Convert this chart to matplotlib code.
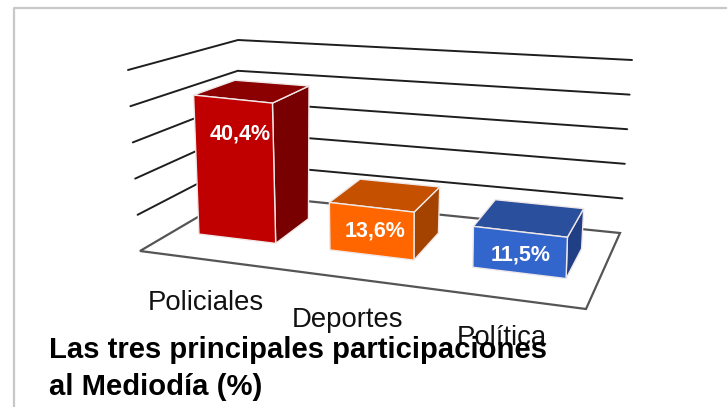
import matplotlib
matplotlib.use("Agg")
import matplotlib.pyplot as plt
from matplotlib.patches import Polygon
import numpy as np

categories = ["Policiales", "Deportes", "Política"]
values = [40.4, 13.6, 11.5]
value_labels = ["40,4%", "13,6%", "11,5%"]
grid_levels = [0, 10, 20, 30, 40, 50]

FRONT_COLORS = ["#C00000", "#FF6600", "#3366CC"]
TOP_COLORS = ["#8B0000", "#C45000", "#2A4F9C"]
SIDE_COLORS = ["#780000", "#A44200", "#203F85"]

# box corners in picture pixels: front-left, front-right, back-right, back-left
FLOOR = np.array([(140, 251), (586, 309), (620, 233), (237, 194)], dtype=float)
CEILING = np.array([(128, 70), (590, 125), (632, 60), (238, 40)], dtype=float)
Z_MAX = 50

# bar footprints as fractions of the floor
BAR_LEFT = [0.059, 0.368, 0.705]
BAR_RIGHT = [0.24, 0.566, 0.925]
BAR_FRONT = 0.35
BAR_BACK = 0.75

LABEL_OFFSET = [(7, 35), (3, 24), (0, 23)]
CAT_POS = [(206, 303), (347, 320), (502, 338)]


def project(u, v, z):
    w = np.array([(1 - u) * (1 - v), u * (1 - v), u * v, (1 - u) * v])
    t = z / Z_MAX
    return tuple((1 - t) * (w @ FLOOR) + t * (w @ CEILING))


plt.rcParams["font.family"] = ["Liberation Sans", "DejaVu Sans"]
fig = plt.figure(figsize=(7.27, 4.07), dpi=100)
ax = fig.add_axes([0, 0, 1, 1])
ax.set_xlim(0, 727)
ax.set_ylim(407, 0)
ax.axis("off")

# slide frame: only the top and left sides show
ax.plot([13.5, 13.5, 727], [407, 8, 8], color="#C8C8C8", linewidth=1.6, zorder=0)

# walls
for level in grid_levels[1:]:
    pts = [project(0, 0, level), project(0, 1, level), project(1, 1, level)]
    ax.plot(*zip(*pts), color="#1E1E1E", linewidth=1.4, solid_capstyle="round", zorder=1)

# floor
floor_pts = [project(0, 0, 0), project(1, 0, 0), project(1, 1, 0), project(0, 1, 0)]
ax.add_patch(Polygon(floor_pts, closed=True, facecolor="white", edgecolor="#555555", linewidth=1.6, zorder=1))

# bars
for i, val in enumerate(values):
    u0, u1 = BAR_LEFT[i], BAR_RIGHT[i]
    v0, v1 = BAR_FRONT, BAR_BACK
    front = [project(u0, v0, 0), project(u1, v0, 0), project(u1, v0, val), project(u0, v0, val)]
    side = [project(u1, v0, 0), project(u1, v1, 0), project(u1, v1, val), project(u1, v0, val)]
    top = [project(u0, v0, val), project(u1, v0, val), project(u1, v1, val), project(u0, v1, val)]
    for pts, col in [(side, SIDE_COLORS[i]), (top, TOP_COLORS[i]), (front, FRONT_COLORS[i])]:
        ax.add_patch(Polygon(pts, closed=True, facecolor=col, edgecolor="#F0E8E8", linewidth=1.0, zorder=3))
    x, y = project((u0 + u1) / 2, v0, val)
    ax.text(x + LABEL_OFFSET[i][0], y + LABEL_OFFSET[i][1], value_labels[i], ha="center", va="center",
            fontsize=15.5, fontweight="bold", color="white", zorder=4)

for name, pos in zip(categories, CAT_POS):
    ax.text(pos[0], pos[1], name, ha="center", va="center", fontsize=19.8, color="#111111", zorder=5)

ax.text(49, 358, "Las tres principales participaciones", fontsize=21.1, fontweight="bold", color="black", zorder=6)
ax.text(49, 395, "al Mediodía (%)", fontsize=21.1, fontweight="bold", color="black", zorder=6)

fig.savefig("out.png", dpi=100)
